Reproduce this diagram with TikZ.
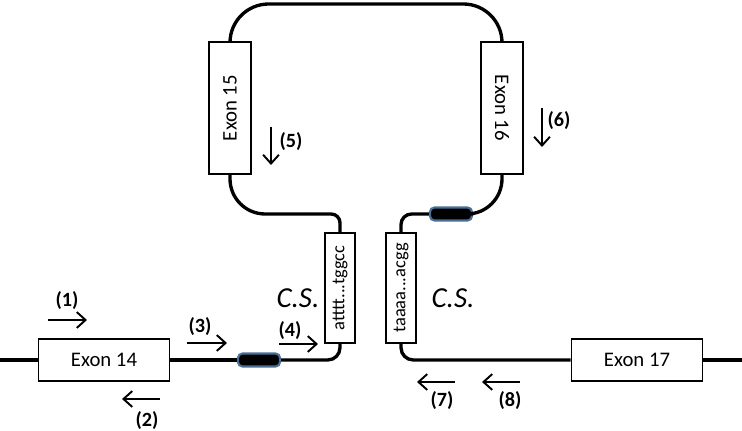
\documentclass[tikz,border=0pt]{standalone}
\usepackage{fontspec}
\setmainfont{Carlito}
\usetikzlibrary{arrows.meta}

\definecolor{blobedge}{HTML}{4A6E96}

\tikzset{
    exon/.style={draw, line width=1.1pt, fill=white, inner sep=0pt, font=\fontsize{11.8}{13}\selectfont},
    hexon/.style={exon, minimum width=2.62cm, minimum height=0.84cm},
    vexon/.style={exon, minimum width=0.84cm, minimum height=2.64cm},
    site/.style={exon, minimum width=0.6cm, minimum height=2.2cm, font=\fontsize{10.5}{12}\selectfont},
    blob/.style={draw=blobedge, line width=1.2pt, fill=black, rounded corners=2.5pt,
        minimum width=0.84cm, minimum height=0.26cm, inner sep=0pt},
    strand/.style={line width=1.9pt},
    primer/.style={line width=1.1pt, -{Straight Barb[length=5pt,width=9pt]}},
    num/.style={font=\fontsize{11.5}{13}\selectfont\bfseries, inner sep=1pt},
    cslab/.style={font=\fontsize{16.5}{18}\selectfont\itshape}
}

\begin{document}
\begin{tikzpicture}[x=0.02cm, y=-0.02cm]
    \useasboundingbox (0,0) rectangle (742,431);

    % exons and splice sites
    \node [hexon] (ex14) at (104,360) {Exon 14};
    \node [hexon] (ex17) at (637,360) {Exon 17};
    \node [vexon] (ex15) at (230,108) {\rotatebox{90}{Exon 15}};
    \node [vexon] (ex16) at (502,108) {\rotatebox{-90}{Exon 16}};
    \node [site] (site1) at (340,288) {\rotatebox{90}{atttt...tggcc}};
    \node [site] (site2) at (401,288) {\rotatebox{90}{taaaa...acgg}};
    \node [blob] (blob1) at (259,360) {};
    \node [blob] (blob2) at (451,214) {};

    \coordinate (leftend) at (0,360);
    \coordinate (rightend) at (742,360);
    \coordinate (top) at (366,4);
    \coordinate (bend) at (310,214);

    % strand
    \draw [strand] (leftend) -- (ex14.west);
    \draw [strand] (ex14.east) -- (blob1.west);
    \draw [strand, rounded corners=7pt] (blob1.east) -| (site1.south);
    \draw [strand, rounded corners=5pt] (bend) -| (site1.north);
    \draw [strand, rounded corners=20pt] (ex15.south) |- (bend);
    \draw [strand, rounded corners=22pt] (ex15.north) |- (top) -| (ex16.north);
    \draw [strand, rounded corners=20pt] (ex16.south) |- (blob2.east);
    \draw [strand, rounded corners=6pt] (blob2.west) -| (site2.north);
    \draw [strand, rounded corners=7pt] (site2.south) |- (ex17.west);
    \draw [strand] (ex17.east) -- (rightend);

    \node [cslab] (cs1) at (298,298) {C.S.};
    \node [cslab] (cs2) at (453,298) {C.S.};

    % primers
    \node [num] (p1) at (67,301) {(1)};
    \node [num] (p2) at (147,421) {(2)};
    \node [num] (p3) at (200,327) {(3)};
    \node [num] (p4) at (290,331) {(4)};
    \node [num] (p5) at (291,142) {(5)};
    \node [num] (p6) at (559,121) {(6)};
    \node [num] (p7) at (442,401) {(7)};
    \node [num] (p8) at (510,401) {(8)};
    \draw [primer] (p1) ++(-19,19) -- ++(39,0);
    \draw [primer] (p2) ++(13,-22) -- ++(-38,0);
    \draw [primer] (p3) ++(-13,16) -- ++(40,0);
    \draw [primer] (p4) ++(-11,13) -- ++(39,0);
    \draw [primer] (p5) ++(-20,-15) -- ++(0,38);
    \draw [primer] (p6) ++(-17,-13) -- ++(0,39);
    \draw [primer] (p7) ++(13,-19) -- ++(-38,0);
    \draw [primer] (p8) ++(10,-19) -- ++(-38,0);
\end{tikzpicture}
\end{document}
